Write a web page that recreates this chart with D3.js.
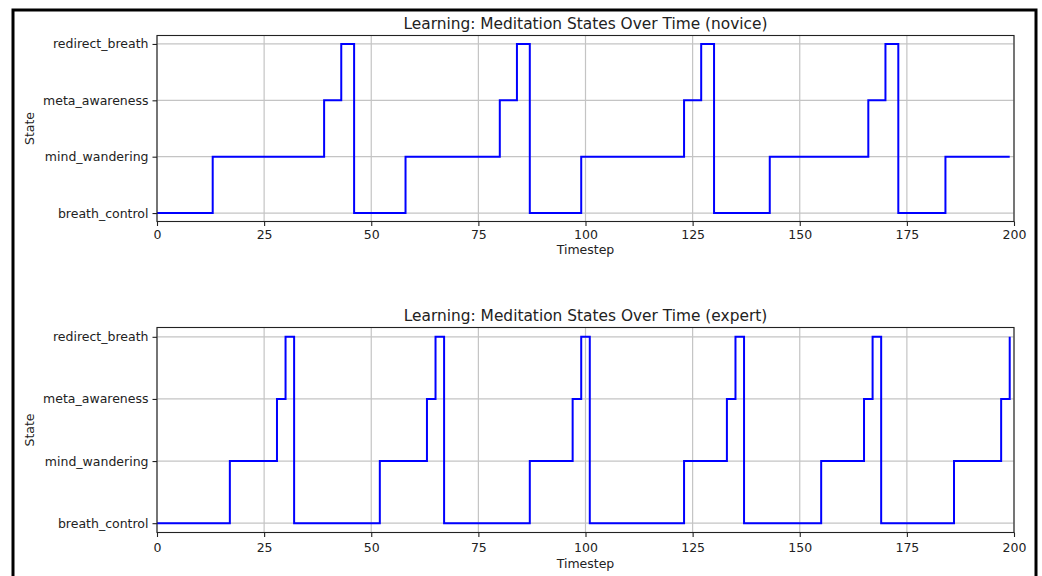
<!DOCTYPE html>
<html lang="en">
<head>
    <meta charset="UTF-8">
    <title>Learning: Meditation States Over Time</title>
    <script src="https://d3js.org/d3.v7.min.js"></script>
    <style>
        html, body { margin: 0; padding: 0; background: #fff; }
        svg { display: block; font-family: "DejaVu Sans", sans-serif; }
    </style>
</head>
<body>
    <div id="chart"></div>

    <script>
        // states in order, bottom to top
        const states = ["breath_control", "mind_wandering", "meta_awareness", "redirect_breath"];
        const xTicks = [0, 25, 50, 75, 100, 125, 150, 175, 200];

        // timesteps where the state changes, and the state from that step on
        const noviceTimes = [0, 13, 39, 43, 46, 58, 80, 84, 87, 99, 123, 127, 130, 143, 166, 170, 173, 184, 199];
        const noviceStates = [
            "breath_control", "mind_wandering", "meta_awareness", "redirect_breath",
            "breath_control", "mind_wandering", "meta_awareness", "redirect_breath",
            "breath_control", "mind_wandering", "meta_awareness", "redirect_breath",
            "breath_control", "mind_wandering", "meta_awareness", "redirect_breath",
            "breath_control", "mind_wandering", "mind_wandering"
        ];

        const expertTimes = [0, 17, 28, 30, 32, 52, 63, 65, 67, 87, 97, 99, 101, 123, 133, 135, 137, 155, 165, 167, 169, 186, 197, 199];
        const expertStates = [
            "breath_control", "mind_wandering", "meta_awareness", "redirect_breath",
            "breath_control", "mind_wandering", "meta_awareness", "redirect_breath",
            "breath_control", "mind_wandering", "meta_awareness", "redirect_breath",
            "breath_control", "mind_wandering", "meta_awareness", "redirect_breath",
            "breath_control", "mind_wandering", "meta_awareness", "redirect_breath",
            "breath_control", "mind_wandering", "meta_awareness", "redirect_breath"
        ];

        const W = 1042, H = 576;
        const svg = d3.select("#chart").append("svg")
            .attr("width", W)
            .attr("height", H);

        svg.append("rect").attr("width", W).attr("height", H).attr("fill", "#fff");

        // outer frame
        svg.append("rect")
            .attr("x", 13).attr("y", 10)
            .attr("width", 1023).attr("height", 620)
            .attr("fill", "none")
            .attr("stroke", "#000")
            .attr("stroke-width", 3);

        const panels = [
            { title: "Learning: Meditation States Over Time (novice)", times: noviceTimes, vals: noviceStates,
              top: 35.5, bottom: 221.5, titleY: 24, tickY: 234, labelY: 249.5 },
            { title: "Learning: Meditation States Over Time (expert)", times: expertTimes, vals: expertStates,
              top: 327.5, bottom: 532.5, titleY: 316, tickY: 547, labelY: 563.5 }
        ];

        const left = 157, right = 1014;

        panels.forEach(p => {
            const x = d3.scaleLinear().domain([0, 200]).range([left, right]);
            const y = d3.scaleLinear().domain([-0.15, 3.15]).range([p.bottom, p.top]);
            const g = svg.append("g");

            // grid
            g.selectAll(".vgrid").data(xTicks).join("line")
                .attr("x1", d => x(d)).attr("x2", d => x(d))
                .attr("y1", p.top).attr("y2", p.bottom)
                .attr("stroke", "#c4c4c4").attr("stroke-width", 1.2);
            g.selectAll(".hgrid").data(states).join("line")
                .attr("x1", left).attr("x2", right)
                .attr("y1", (d, i) => y(i)).attr("y2", (d, i) => y(i))
                .attr("stroke", "#c4c4c4").attr("stroke-width", 1.2);

            // step line
            const pts = p.times.map((t, i) => [t, states.indexOf(p.vals[i])]);
            const line = d3.line()
                .x(d => x(d[0]))
                .y(d => y(d[1]))
                .curve(d3.curveStepAfter);
            g.append("path")
                .attr("d", line(pts))
                .attr("fill", "none")
                .attr("stroke", "#0000ff")
                .attr("stroke-width", 2);

            // frame of the axes
            g.append("rect")
                .attr("x", left).attr("y", p.top)
                .attr("width", right - left).attr("height", p.bottom - p.top)
                .attr("fill", "none").attr("stroke", "#222").attr("stroke-width", 1.1);

            // axes
            const xAxis = g.append("g")
                .attr("transform", `translate(0,${p.bottom})`)
                .call(d3.axisBottom(x).tickValues(xTicks).tickSize(4.5).tickPadding(3).tickFormat(d3.format("d")));
            const yAxis = g.append("g")
                .attr("transform", `translate(${left},0)`)
                .call(d3.axisLeft(d3.scalePoint().domain(states).range([y(0), y(3)]))
                    .tickSize(4.5).tickPadding(4));
            [xAxis, yAxis].forEach(a => {
                a.select(".domain").remove();
                a.selectAll(".tick line").attr("stroke", "#222").attr("stroke-width", 1.1);
                a.selectAll("text")
                    .attr("fill", "#222")
                    .style("font-family", "DejaVu Sans")
                    .style("font-size", "12.5px");
            });
            xAxis.selectAll("text").attr("y", null).attr("dy", null)
                .attr("y", p.tickY - p.bottom).attr("dominant-baseline", "central");

            g.append("text")
                .attr("x", (left + right) / 2).attr("y", p.titleY)
                .attr("text-anchor", "middle").attr("dominant-baseline", "central")
                .attr("fill", "#222")
                .style("font-size", "15.4px")
                .text(p.title);

            g.append("text")
                .attr("x", (left + right) / 2).attr("y", p.labelY)
                .attr("text-anchor", "middle").attr("dominant-baseline", "central")
                .attr("fill", "#222")
                .style("font-size", "12.5px")
                .text("Timestep");

            g.append("text")
                .attr("transform", `translate(29,${(p.top + p.bottom) / 2}) rotate(-90)`)
                .attr("text-anchor", "middle").attr("dominant-baseline", "central")
                .attr("fill", "#222")
                .style("font-size", "12.5px")
                .text("State");
        });
    </script>
</body>
</html>
